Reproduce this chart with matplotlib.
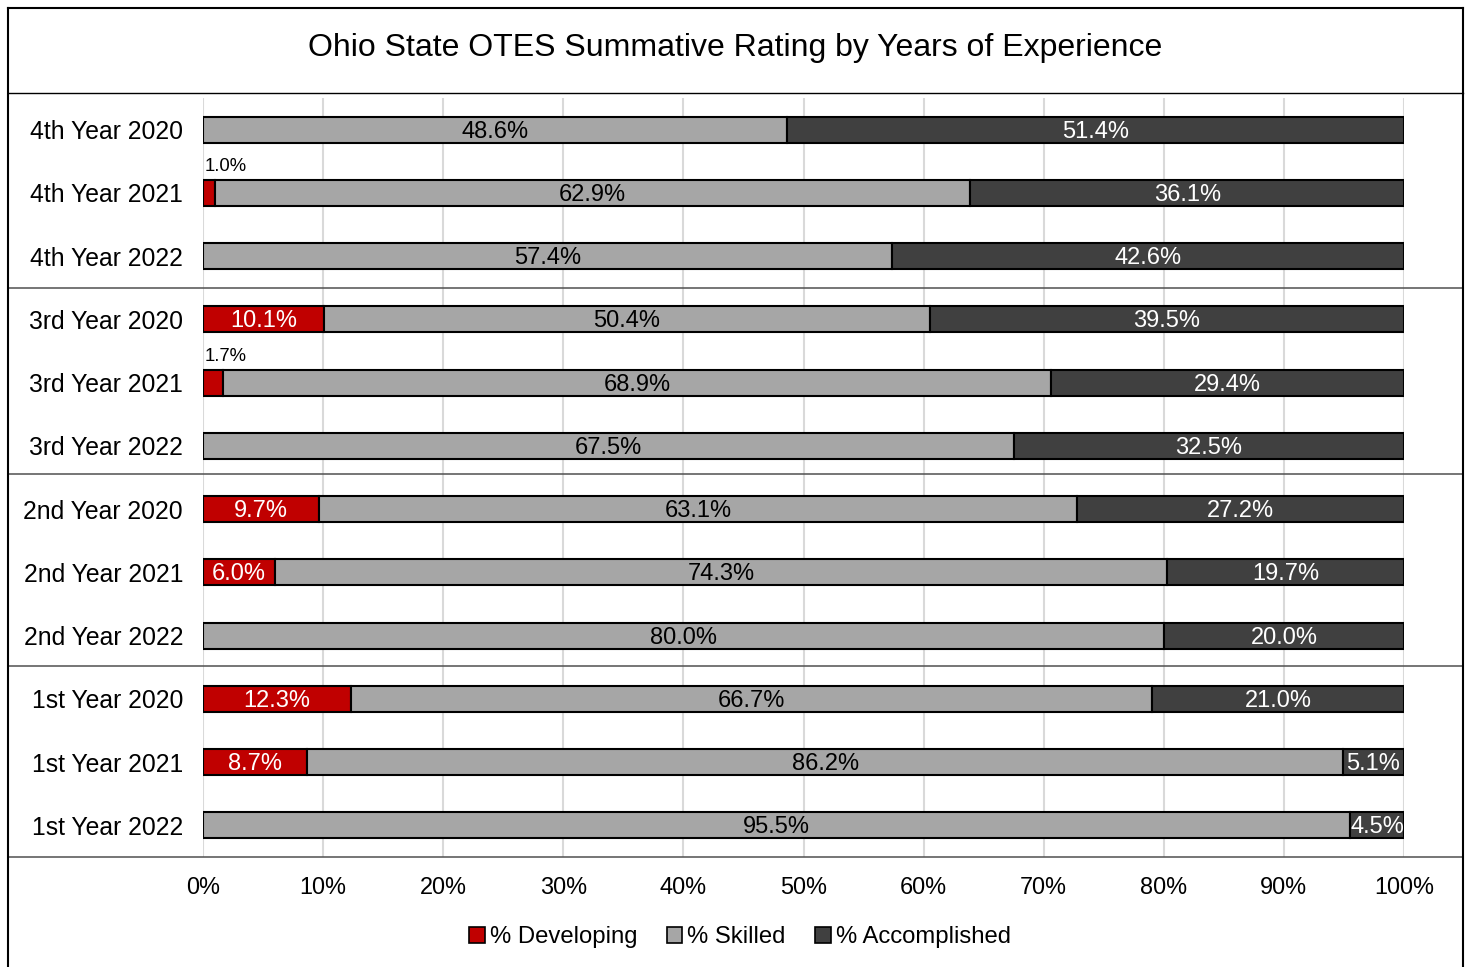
import matplotlib
matplotlib.use("Agg")
import matplotlib.pyplot as plt
from matplotlib.lines import Line2D
from matplotlib.patches import Patch
from matplotlib.transforms import blended_transform_factory

plt.rcParams["font.family"] = ["Liberation Sans", "DejaVu Sans"]

# ---------------------------
# Data (top row first)
# ---------------------------
categories = [
    "4th Year 2020", "4th Year 2021", "4th Year 2022",
    "3rd Year 2020", "3rd Year 2021", "3rd Year 2022",
    "2nd Year 2020", "2nd Year 2021", "2nd Year 2022",
    "1st Year 2020", "1st Year 2021", "1st Year 2022",
]
developing = [0.0, 1.0, 0.0, 10.1, 1.7, 0.0, 9.7, 6.0, 0.0, 12.3, 8.7, 0.0]
skilled = [48.6, 62.9, 57.4, 50.4, 68.9, 67.5, 63.1, 74.3, 80.0, 66.7, 86.2, 95.5]
accomplished = [51.4, 36.1, 42.6, 39.5, 29.4, 32.5, 27.2, 19.7, 20.0, 21.0, 5.1, 4.5]
series_names = ["% Developing", "% Skilled", "% Accomplished"]
x_ticks = [0, 10, 20, 30, 40, 50, 60, 70, 80, 90, 100]
group_breaks = [2.5, 5.45, 8.48]  # lines between year groups

colors = ["#C00000", "#A6A6A6", "#404040"]
text_colors = ["white", "black", "white"]

W, H = 1467, 967
fig = plt.figure(figsize=(W / 100, H / 100), dpi=100)
ax = fig.add_axes([203 / W, 1 - 857 / H, (1404 - 203) / W, (857 - 98) / H])

n = len(categories)
ypos = list(range(n))
bar_h = 0.41

lefts = [0.0] * n
for vals, col, tcol in zip([developing, skilled, accomplished], colors, text_colors):
    ax.barh(ypos, vals, left=lefts, height=bar_h, color=col,
            edgecolor="black", linewidth=1.5, zorder=3)
    for i, v in enumerate(vals):
        if v <= 0:
            continue
        if v < 3:
            # tiny segment: label sits above the bar
            ax.text(lefts[i] + 0.15, i - 0.41, f"{v:.1f}%", ha="left", va="center",
                    fontsize=13.3, color="black", zorder=4)
        else:
            ax.text(lefts[i] + v / 2, i + 0.03, f"{v:.1f}%", ha="center",
                    va="center", fontsize=17, color=tcol, zorder=4)
    lefts = [l + v for l, v in zip(lefts, vals)]

ax.set_xlim(0, 100)
ax.set_ylim(n - 0.5, -0.5)
ax.set_yticks(ypos)
ax.set_yticklabels(categories, fontsize=17.8)
ax.set_xticks(x_ticks)
ax.set_xticklabels([f"{t}%" for t in x_ticks], fontsize=16.9)
ax.tick_params(axis="both", length=0)
ax.tick_params(axis="y", pad=14.4)
ax.tick_params(axis="x", pad=14)
ax.grid(True, axis="x", color="#D9D9D9", linewidth=1.5, zorder=0)
for s in ax.spines.values():
    s.set_visible(False)

# Group separators spanning the whole chart width
tr = blended_transform_factory(fig.transFigure, ax.transData)
for yb in group_breaks + [n - 0.5]:
    fig.add_artist(Line2D([8 / W, 1463 / W], [yb, yb], transform=tr,
                          color="#505050", linewidth=1.1, clip_on=False))

# Outer frame and title box
fc = "black"
fig.add_artist(Line2D([8 / W, 8 / W], [0, 1 - 8 / H], color=fc, linewidth=1.5))
fig.add_artist(Line2D([1463 / W, 1463 / W], [0, 1 - 8 / H], color=fc, linewidth=1.5))
fig.add_artist(Line2D([8 / W, 1463 / W], [1 - 8 / H, 1 - 8 / H], color=fc, linewidth=1.5))
fig.add_artist(Line2D([8 / W, 1463 / W], [1 - 93 / H, 1 - 93 / H], color=fc, linewidth=1.0))

fig.text(735 / W, 1 - 48 / H, "Ohio State OTES Summative Rating by Years of Experience",
         ha="center", va="center", fontsize=23)

handles = [Patch(facecolor=c, edgecolor="black", linewidth=1.2) for c in colors]
fig.legend(handles, series_names, loc="center", bbox_to_anchor=(740 / W, 1 - 937 / H),
           ncol=3, frameon=False, fontsize=17.2, handlelength=0.65, handleheight=0.65,
           handletextpad=0.2, columnspacing=1.25)

fig.savefig("out.png", dpi=100)
